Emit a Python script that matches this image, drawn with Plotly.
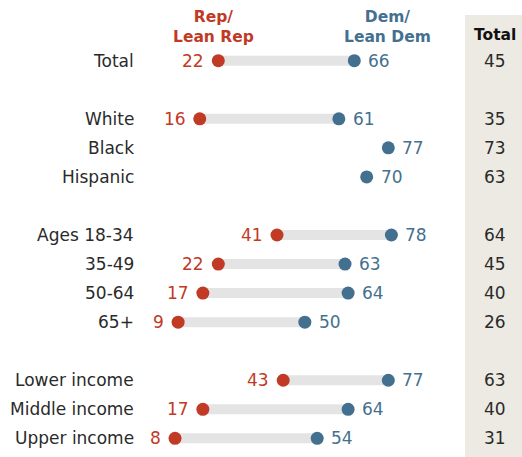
import plotly.graph_objects as go

categories = ["Total", "White", "Black", "Hispanic", "Ages 18-34", "35-49", "50-64", "65+",
              "Lower income", "Middle income", "Upper income"]
rows = [0, 2, 3, 4, 6, 7, 8, 9, 11, 12, 13]
rep = [22, 16, None, None, 41, 22, 17, 9, 43, 17, 8]
dem = [66, 61, 77, 70, 78, 63, 64, 50, 77, 64, 54]
total = [45, 35, 73, 63, 64, 45, 40, 26, 63, 40, 31]

RED = "#C03A25"
BLUE = "#44708F"
GRAY = "#E4E4E4"
TXT = "#2a2a2a"
FONT = "DejaVu Sans"
FS = 17

W, H = 522, 457
# pixel mapping
x0px, kx = 150.3, 3.091
y0px, ky = 60.7, 29.05
xr = [(0 - x0px) / kx, (W - x0px) / kx]
yr = [(H - y0px) / ky, (0 - y0px) / ky]

def px(x):
    return (x - x0px) / kx

def py(y):
    return (y - y0px) / ky

fig = go.Figure()

# connecting bars
for r, a, b in zip(rows, rep, dem):
    if a is None or b is None:
        continue
    fig.add_trace(go.Scatter(x=[a, b], y=[r, r], mode="lines",
                             line=dict(color=GRAY, width=10), hoverinfo="skip", showlegend=False))

rx = [a for a in rep if a is not None]
ry = [r for r, a in zip(rows, rep) if a is not None]
fig.add_trace(go.Scatter(x=rx, y=ry, mode="markers",
                         marker=dict(color=RED, size=13), showlegend=False))
fig.add_trace(go.Scatter(x=dem, y=rows, mode="markers",
                         marker=dict(color=BLUE, size=13), showlegend=False))

for a, r in zip(rx, ry):
    fig.add_annotation(x=a, y=r, text=str(a), showarrow=False, xanchor="right",
                       xshift=-12, yshift=0, font=dict(size=FS, color=RED, family=FONT))
for b, r in zip(dem, rows):
    fig.add_annotation(x=b, y=r, text=str(b), showarrow=False, xanchor="left",
                       xshift=12, yshift=0, font=dict(size=FS, color=BLUE, family=FONT))

# total column background
fig.add_shape(type="rect", x0=px(465), x1=xr[1] + 1, y0=py(15), y1=yr[0] + 1,
              fillcolor="#EDEAE3", line=dict(width=0), layer="below")

for c, r, t in zip(categories, rows, total):
    fig.add_annotation(x=px(136), y=r, text=c, showarrow=False, xanchor="right",
                       font=dict(size=FS, color=TXT, family=FONT))
    fig.add_annotation(x=px(495), y=r, text=str(t), showarrow=False, xanchor="center",
                       font=dict(size=FS, color=TXT, family=FONT))

fig.add_annotation(x=px(213), y=py(26.5), text="<b>Rep/<br>Lean Rep</b>",
                   showarrow=False, font=dict(size=15.5, color=RED, family=FONT))
fig.add_annotation(x=px(387), y=py(26.5), text="<b>Dem/<br>Lean Dem</b>",
                   showarrow=False, font=dict(size=15.5, color=BLUE, family=FONT))
fig.add_annotation(x=px(495), y=py(35), text="<b>Total</b>",
                   showarrow=False, font=dict(size=15.5, color="#111111", family=FONT))

fig.update_layout(width=W, height=H, margin=dict(l=0, r=0, t=0, b=0),
                  plot_bgcolor="white", paper_bgcolor="white",
                  xaxis=dict(range=xr, visible=False, fixedrange=True),
                  yaxis=dict(range=yr, visible=False, fixedrange=True))

fig.write_html("out.html", config={"displayModeBar": False},
               post_script="document.body.style.margin='0';document.body.style.overflow='hidden';")
